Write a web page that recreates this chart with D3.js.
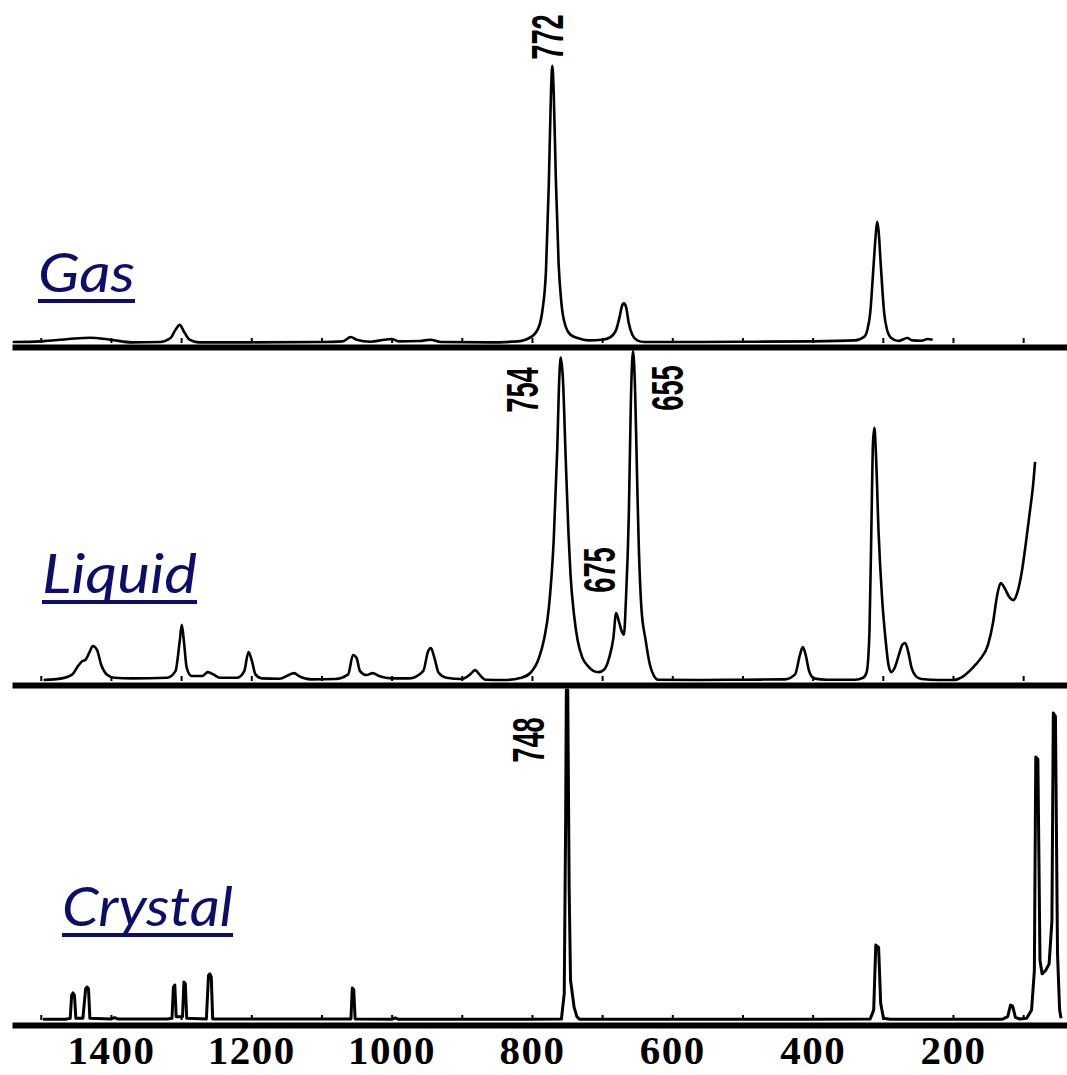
<!DOCTYPE html>
<html>
<head>
<meta charset="utf-8">
<script src="https://cdn.jsdelivr.net/npm/d3@7"></script>
<style>
    html, body { margin: 0; padding: 0; background: #fff; }
    svg { display: block; }
</style>
</head>
<body>
<svg id="chart" width="1067" height="1075"></svg>
<script>
// 光谱数据: [波数 cm-1, 相对强度 0-100]
const gasSpectrum = [
    [1540, 0.3], [1500, 0.5], [1460, 1.2], [1430, 1.6], [1400, 1.0], [1370, 0.2], [1330, 0.3],
    [1315, 1.5], [1308, 4], [1302, 5.5], [1296, 3.5], [1288, 1], [1275, 0.2], [1200, 0.2],
    [1100, 0.3], [1070, 0.5], [1058, 1.8], [1050, 1.0], [1030, 0.4], [1010, 1.0], [1000, 1.2],
    [990, 0.5], [960, 0.6], [945, 1.0], [930, 0.3], [860, 0.2], [820, 0.5], [800, 2], [790, 5],
    [785, 10], [780, 22], [776, 48], [773, 75], [771, 84], [769, 76], [766, 50], [762, 24],
    [758, 12], [752, 5], [745, 2.5], [735, 1.5], [720, 0.8], [700, 1.0], [688, 1.8], [680, 4],
    [675, 8], [672, 11], [669, 12], [666, 11], [662, 6], [657, 2.5], [650, 0.8], [640, 0.3],
    [560, 0.3], [480, 0.4], [400, 0.5], [340, 0.8], [326, 2], [322, 4], [318, 9], [313, 24],
    [310, 33], [308, 36.7], [306, 34], [303, 24], [298, 9], [294, 4], [288, 1.5], [278, 0.6],
    [265, 1.5], [258, 0.8], [245, 0.7], [236, 1.2], [229, 1.0]
];

const liquidSpectrum = [
    [1496, 0.3], [1470, 0.8], [1455, 2], [1447, 4.5], [1442, 5.8], [1436, 6.5], [1430, 9],
    [1426, 10.6], [1420, 9.5], [1414, 5], [1406, 2], [1395, 1], [1370, 0.8], [1320, 1],
    [1308, 3], [1302, 12], [1299, 17], [1296, 12], [1292, 4], [1285, 1.5], [1270, 1.5],
    [1262, 2.7], [1254, 2], [1245, 1], [1220, 1], [1210, 3], [1204, 8.8], [1199, 6], [1194, 2],
    [1185, 0.8], [1160, 0.7], [1145, 2], [1139, 2.4], [1132, 1.5], [1115, 0.5], [1080, 0.6],
    [1062, 2], [1055, 7.9], [1050, 7], [1045, 3], [1036, 1.8], [1027, 2.4], [1018, 1.5],
    [1000, 0.8], [975, 0.8], [955, 3], [948, 9], [944, 10], [939, 7], [933, 2.5], [922, 1],
    [900, 0.6], [888, 2], [881, 3.3], [875, 2], [866, 0.4], [840, 0.3], [815, 1], [802, 2.5],
    [790, 7], [783, 12.4], [776, 22], [769, 42.7], [764, 70], [761, 92], [759, 98], [756, 92],
    [752, 68], [748, 45], [745, 32], [740, 20], [735, 12.4], [728, 7], [720, 4.5], [712, 3],
    [705, 2.7], [697, 3.5], [690, 7], [684, 13], [680, 20.6], [676, 18], [672, 15], [669, 14],
    [666, 25], [662, 50], [659, 85], [656, 100], [653, 88], [650, 60], [648, 42.7], [644, 22],
    [638, 12.4], [632, 5], [626, 1.5], [620, 0.4], [560, 0.3], [500, 0.4], [440, 0.5],
    [425, 2], [418, 8], [414, 10.3], [410, 8], [405, 3], [398, 0.8], [380, 0.4], [340, 0.4],
    [328, 1], [323, 2.7], [319, 15], [316, 50], [314, 72], [312, 76.7], [310, 70], [306, 45],
    [301, 25], [296, 12.4], [292, 5], [288, 2.7], [283, 4], [277, 8], [272, 11], [268, 11.5],
    [264, 9], [259, 4], [253, 1.5], [245, 0.6], [220, 0.3], [200, 0.3], [185, 1.5], [172, 4],
    [162, 6.4], [150, 11], [143, 17.6], [137, 26], [132, 29.7], [126, 28], [120, 25.5],
    [114, 24.5], [108, 27], [102, 33], [96, 42], [90, 52], [86, 59], [83, 66.4]
];

const crystalSpectrum = [
    [1497, 0.2], [1465, 0.2], [1458, 0.5], [1456, 7.5], [1454, 8.2], [1452, 7.5], [1450, 0.5],
    [1440, 0.5], [1436, 9.5], [1434, 10], [1432, 9.5], [1430, 0.5], [1400, 0.3], [1395, 0.7],
    [1390, 0.3], [1320, 0.3], [1313, 0.5], [1311, 10], [1309, 10.6], [1307, 1], [1298, 1],
    [1296, 11.5], [1294, 11], [1292, 0.5], [1264, 0.3], [1261, 13.5], [1259, 14], [1257, 13],
    [1255, 0.3], [1180, 0.3], [1058, 0.3], [1056, 9.7], [1054, 9.2], [1052, 0.3], [1000, 0.2],
    [995, 0.6], [990, 0.2], [800, 0.2], [758, 0.3], [754, 8], [752, 60], [751, 100], [749, 100],
    [747, 40], [745, 12], [740, 4], [736, 1], [732, 0.2], [400, 0.2], [318, 0.3], [313, 3],
    [310, 22.7], [306, 22], [303, 5], [299, 0.5], [290, 0.2], [230, 0.2], [130, 0.2], [122, 1],
    [118, 4.5], [115, 4.2], [111, 0.8], [105, 0.3], [95, 0.5], [88, 3], [84, 15], [82, 79.7],
    [79, 79], [76, 18], [73, 14], [68, 15], [63, 17], [59, 30], [57, 93], [54, 92], [51, 20],
    [48, 3], [46, 0.5]
];

// 相态名称
const phaseNames = ['Gas', 'Liquid', 'Crystal'];

// 峰值标注
const gasPeakLabels = [772];
const liquidPeakLabels = [754, 675, 655];
const crystalPeakLabels = [748];

// x 轴刻度文字
const axisTickLabels = [1400, 1200, 1000, 800, 600, 400, 200];

// 记录纸上每 100 cm-1 的小刻度
const scanMarks = [1500, 1400, 1300, 1200, 1100, 1000, 900, 800, 700, 600, 500, 400, 300, 200, 100];

// ---------------- 布局 ----------------
const svg = d3.select('#chart');
const ink = '#000';
const navy = '#0d0d6b';

// x 比例尺 (波数从左到右递减)
const x = d3.scaleLinear().domain([1541, 37.5]).range([12, 1067]);

// 峰值标注的位置偏移 [dx, 中心 y]
const labelLayout = {772: [-4, 37], 754: [-42, 390], 675: [-20, 570], 655: [34, 388], 748: [-40, 740]};

const panels = [
    {name: phaseNames[0], data: gasSpectrum, labels: gasPeakLabels, base: 343, axisY: 347, title: [38, 292, 97]},
    {name: phaseNames[1], data: liquidSpectrum, labels: liquidPeakLabels, base: 681, axisY: 685, title: [42, 593, 155]},
    {name: phaseNames[2], data: crystalSpectrum, labels: crystalPeakLabels, base: 1020, axisY: 1025, title: [62, 926, 171]}
];

panels.forEach((p, i) => {
    // y 比例尺
    const y = d3.scaleLinear().domain([0, 100]).range([p.base, p.base - 330]);
    const g = svg.append('g').attr('class', 'panel-' + p.name);

    // 粗基线
    const axis = g.append('g')
        .attr('transform', `translate(0,${p.axisY})`)
        .call(d3.axisBottom(x)
            .tickValues(i === 2 ? axisTickLabels : [])
            .tickFormat(d3.format('d'))
            .tickSize(0)
            .tickSizeOuter(0)
            .tickPadding(10));
    axis.select('.domain').attr('stroke', ink).attr('stroke-width', 6);
    axis.selectAll('text')
        .attr('fill', ink)
        .style('font-family', "'Liberation Serif', 'DejaVu Serif', serif")
        .style('font-weight', 'bold')
        .style('font-size', '41px')
        .style('letter-spacing', '1.5px');

    // 记录纸小刻度
    const marks = g.append('g')
        .attr('transform', `translate(0,${p.base})`)
        .call(d3.axisTop(x).tickValues(scanMarks).tickSize(5).tickFormat(''));
    marks.select('.domain').remove();
    marks.selectAll('line').attr('stroke', ink).attr('stroke-width', 2);

    // 光谱曲线
    const line = d3.line()
        .x(d => x(d[0]))
        .y(d => y(d[1]))
        .curve(i === 2 ? d3.curveLinear : d3.curveMonotoneX);
    g.append('path')
        .datum(p.data)
        .attr('d', line)
        .attr('fill', 'none')
        .attr('stroke', ink)
        .attr('stroke-width', i === 2 ? 3 : 2.6)
        .attr('stroke-linejoin', 'round');

    // 峰值标注 (竖排)
    g.selectAll('.peak-label')
        .data(p.labels)
        .enter().append('text')
        .attr('class', 'peak-label')
        .attr('transform', d => `translate(${x(d) + labelLayout[d][0]},${labelLayout[d][1]}) rotate(-90) scale(0.62,1)`)
        .attr('y', 15.5)
        .attr('text-anchor', 'middle')
        .attr('fill', ink)
        .style('font-family', "'Liberation Sans', Arial, sans-serif")
        .style('font-weight', 'bold')
        .style('font-size', '44px')
        .text(d => d);

    // 相态名称 + 下划线
    const [tx, ty, tw] = p.title;
    g.append('text')
        .attr('x', tx)
        .attr('y', ty)
        .attr('textLength', tw)
        .attr('lengthAdjust', 'spacingAndGlyphs')
        .attr('fill', navy)
        .style('font-family', "Lato, 'Open Sans', sans-serif")
        .style('font-style', 'italic')
        .style('font-size', '54px')
        .text(p.name);
    g.append('rect')
        .attr('x', tx)
        .attr('y', ty + 7)
        .attr('width', tw)
        .attr('height', 4)
        .attr('fill', navy);
});
</script>
</body>
</html>
